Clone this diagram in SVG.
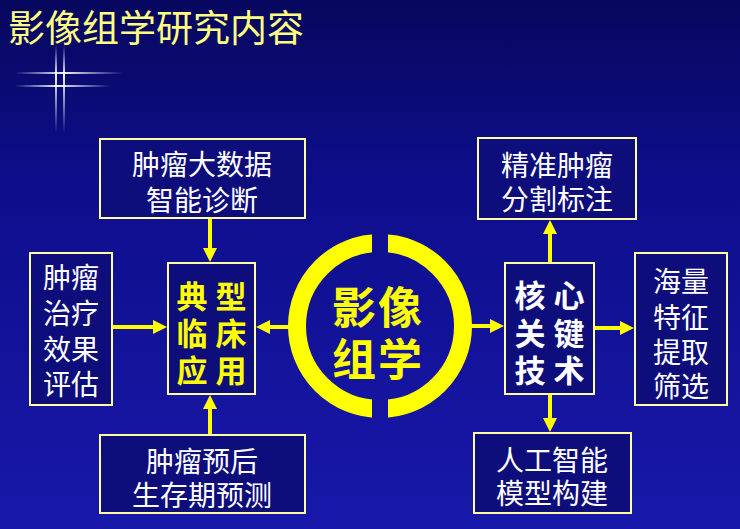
<svg xmlns="http://www.w3.org/2000/svg" width="740" height="529" viewBox="0 0 740 529">
  <defs>
    <linearGradient id="bg" x1="0" y1="0" x2="0" y2="1">
      <stop offset="0" stop-color="#07075e"/>
      <stop offset="0.35" stop-color="#0e0e8c"/>
      <stop offset="1" stop-color="#1818aa"/>
    </linearGradient>
    <linearGradient id="hfade" x1="0" y1="0" x2="1" y2="0">
      <stop offset="0" stop-color="#ffffff" stop-opacity="0"/>
      <stop offset="0.45" stop-color="#ffffff" stop-opacity="0.95"/>
      <stop offset="1" stop-color="#ffffff" stop-opacity="0"/>
    </linearGradient>
    <linearGradient id="vfade" x1="0" y1="0" x2="0" y2="1">
      <stop offset="0" stop-color="#ffffff" stop-opacity="0"/>
      <stop offset="0.35" stop-color="#ffffff" stop-opacity="0.95"/>
      <stop offset="1" stop-color="#ffffff" stop-opacity="0"/>
    </linearGradient>
    <marker id="ah" markerUnits="userSpaceOnUse" markerWidth="14" markerHeight="14" refX="4" refY="7" orient="auto">
      <path d="M0,0 L14,7 L0,14 z" fill="#ffff00"/>
    </marker>
    <clipPath id="ringclip">
      <rect x="270" y="220" width="102" height="210"/>
      <rect x="388" y="220" width="102" height="210"/>
    </clipPath>
    <style>
      .box { fill: #0d0d7c; stroke: #ffffa0; stroke-width: 2; }
      .t { font-family: "Noto Sans CJK SC", "Noto Sans CJK JP", sans-serif; fill: #ffffff; text-anchor: middle; dominant-baseline: central; font-size: 28px; }
      .t2 { font-size: 28px; }
      .ty { fill: #ffff00; font-weight: bold; font-size: 31px; }
      .tw { fill: #ffffff; font-weight: bold; font-size: 31px; }
      .tc { fill: #ffff00; font-weight: bold; font-size: 44px; }
      .conn { stroke: #ffff00; stroke-width: 4; fill: none; marker-end: url(#ah); }
    </style>
  </defs>

  <rect x="0" y="0" width="740" height="529" fill="url(#bg)"/>

  <!-- sparkle -->
  <g id="sparkle">
    <rect x="15" y="72" width="108" height="2" fill="url(#hfade)"/>
    <rect x="15" y="85" width="96" height="2" fill="url(#hfade)"/>
    <rect x="55" y="45" width="2" height="88" fill="url(#vfade)"/>
    <rect x="63" y="45" width="2" height="88" fill="url(#vfade)"/>
  </g>

  <!-- title -->
  <g id="title">
    <text x="8" y="42" font-family="Noto Sans CJK SC, sans-serif" font-size="37" fill="#ffff80">影像组学研究内容</text>
  </g>

  <!-- connectors -->
  <g id="connectors">
    <line class="conn" x1="210" y1="219" x2="210" y2="252"/>
    <line class="conn" x1="210" y1="434" x2="210" y2="405"/>
    <line class="conn" x1="113" y1="327" x2="157" y2="327"/>
    <line class="conn" x1="290" y1="327" x2="266" y2="327"/>
    <line class="conn" x1="470" y1="326" x2="494" y2="326"/>
    <line class="conn" x1="550" y1="262" x2="550" y2="230"/>
    <line class="conn" x1="550" y1="395" x2="550" y2="422"/>
    <line class="conn" x1="595" y1="328" x2="624" y2="328"/>
  </g>

  <!-- center circle -->
  <g id="center">
    <circle cx="380" cy="326" r="83" fill="none" stroke="#ffff00" stroke-width="18" clip-path="url(#ringclip)"/>
    <text class="t tc" x="354" y="305">影</text>
    <text class="t tc" x="400" y="305">像</text>
    <text class="t tc" x="354" y="357">组</text>
    <text class="t tc" x="400" y="357">学</text>
  </g>

  <!-- left side -->
  <g id="diagnosis">
    <rect class="box" x="100" y="139" width="205" height="79"/>
    <text class="t" x="202" y="163">肿瘤大数据</text>
    <text class="t" x="202" y="199">智能诊断</text>
  </g>

  <g id="efficacy">
    <rect class="box" x="30" y="253" width="82" height="152"/>
    <text class="t t2" x="71" y="276">肿瘤</text>
    <text class="t t2" x="71" y="312">治疗</text>
    <text class="t t2" x="71" y="348">效果</text>
    <text class="t t2" x="71" y="383">评估</text>
  </g>

  <g id="clinical">
    <rect class="box" x="168" y="263" width="87" height="131"/>
    <text class="t ty" x="192" y="294">典</text>
    <text class="t ty" x="231" y="294">型</text>
    <text class="t ty" x="192" y="331">临</text>
    <text class="t ty" x="231" y="331">床</text>
    <text class="t ty" x="192" y="368">应</text>
    <text class="t ty" x="231" y="368">用</text>
  </g>

  <g id="prognosis">
    <rect class="box" x="100" y="435" width="205" height="78"/>
    <text class="t" x="202" y="460">肿瘤预后</text>
    <text class="t" x="202" y="494">生存期预测</text>
  </g>

  <!-- right side -->
  <g id="segmentation">
    <rect class="box" x="478" y="138" width="158" height="81"/>
    <text class="t" x="557" y="164">精准肿瘤</text>
    <text class="t" x="557" y="198">分割标注</text>
  </g>

  <g id="keytech">
    <rect class="box" x="505" y="263" width="89" height="131"/>
    <text class="t tw" x="530" y="293">核</text>
    <text class="t tw" x="569" y="293">心</text>
    <text class="t tw" x="530" y="331">关</text>
    <text class="t tw" x="569" y="331">键</text>
    <text class="t tw" x="530" y="368">技</text>
    <text class="t tw" x="569" y="368">术</text>
  </g>

  <g id="features">
    <rect class="box" x="635" y="253" width="92" height="152"/>
    <text class="t t2" x="681" y="280">海量</text>
    <text class="t t2" x="681" y="316">特征</text>
    <text class="t t2" x="681" y="351">提取</text>
    <text class="t t2" x="681" y="385">筛选</text>
  </g>

  <g id="aimodel">
    <rect class="box" x="474" y="433" width="157" height="80"/>
    <text class="t" x="552" y="459">人工智能</text>
    <text class="t" x="552" y="492">模型构建</text>
  </g>
</svg>
